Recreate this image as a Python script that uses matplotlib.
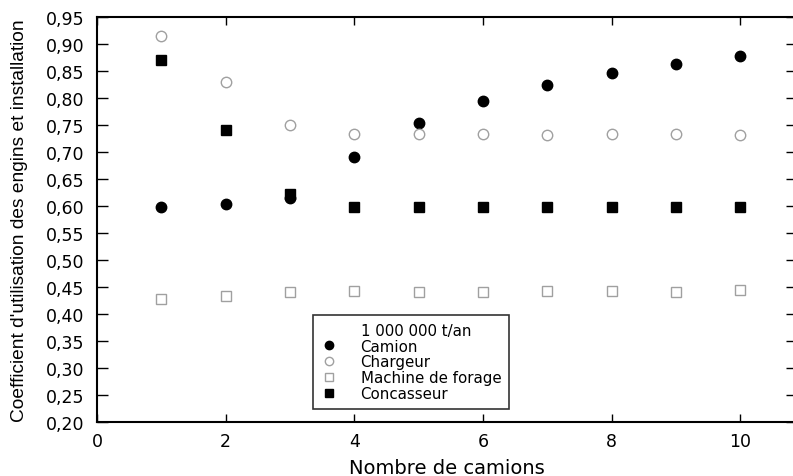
import matplotlib.pyplot as plt
from matplotlib.ticker import FuncFormatter, MultipleLocator
from matplotlib.lines import Line2D

plt.rcParams['font.family'] = ['DejaVu Sans']

camions = [1, 2, 3, 4, 5, 6, 7, 8, 9, 10]
camion = [0.598, 0.603, 0.615, 0.690, 0.754, 0.794, 0.824, 0.846, 0.863, 0.877]
chargeur = [0.915, 0.830, 0.750, 0.733, 0.733, 0.733, 0.731, 0.733, 0.733, 0.731]
forage = [0.428, 0.434, 0.441, 0.443, 0.441, 0.440, 0.442, 0.443, 0.440, 0.445]
concasseur = [0.870, 0.741, 0.622, 0.599, 0.599, 0.599, 0.599, 0.599, 0.599, 0.599]

fig = plt.figure(figsize=(7.93, 4.77), dpi=100)
ax = fig.add_axes([0.1223, 0.1132, 0.8827, 0.8491])

gris = "#a0a0a0"
ax.plot(camions, camion, "o", color="black", markersize=7.5, linestyle="none")
ax.plot(camions, chargeur, "o", markerfacecolor="white", markeredgecolor=gris,
        markersize=7.5, linestyle="none")
ax.plot(camions, forage, "s", markerfacecolor="white", markeredgecolor=gris,
        markersize=7, linestyle="none")
ax.plot(camions, concasseur, "s", color="black", markersize=7, linestyle="none")

ax.set_xlim(0, 10.88)
ax.set_ylim(0.20, 0.95)
ax.xaxis.set_major_locator(MultipleLocator(2))
ax.yaxis.set_major_locator(MultipleLocator(0.05))
ax.yaxis.set_major_formatter(FuncFormatter(lambda v, p: f"{v:.2f}".replace(".", ",")))
ax.tick_params(axis="x", direction="in", length=6, width=1, labelsize=12.5,
               pad=7, top=True)
ax.tick_params(axis="y", direction="in", length=8, width=1, labelsize=12.5,
               pad=9, right=True)
for s in ax.spines.values():
    s.set_linewidth(1.5)

ax.set_xlabel("Nombre de camions", fontsize=14, labelpad=6)
ax.set_ylabel("Coefficient d'utilisation des engins et installation",
              fontsize=13.8, family="Liberation Sans", labelpad=13)

handles = [
    Line2D([], [], linestyle="none", marker=None),
    Line2D([], [], marker="o", color="black", linestyle="none", markersize=6),
    Line2D([], [], marker="o", markerfacecolor="white", markeredgecolor=gris,
           linestyle="none", markersize=6),
    Line2D([], [], marker="s", markerfacecolor="white", markeredgecolor=gris,
           linestyle="none", markersize=5.5),
    Line2D([], [], marker="s", color="black", linestyle="none", markersize=5.5),
]
labels = ["1 000 000 t/an", "Camion", "Chargeur", "Machine de forage", "Concasseur"]
leg = ax.legend(handles, labels, loc="lower left", bbox_to_anchor=(0.309, 0.032),
                fontsize=10.8, frameon=True, fancybox=False, edgecolor="black",
                handlelength=1.0, handletextpad=1.6, labelspacing=0.05,
                borderpad=0.55, borderaxespad=0)
leg.get_frame().set_linewidth(1.2)

fig.savefig("out.png", dpi=100)
